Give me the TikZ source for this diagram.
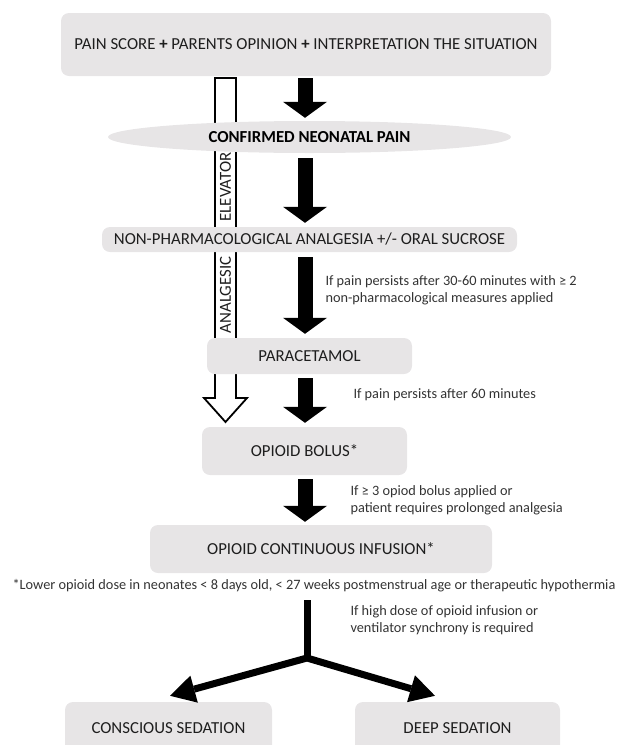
\documentclass[tikz,border=0pt]{standalone}
\usepackage{fontspec}
\setmainfont{Carlito}
\usetikzlibrary{
arrows.meta,
positioning,
calc,
shapes.geometric
}
\definecolor{BoxGray}{HTML}{E7E5E6}
\definecolor{TextDark}{HTML}{1E1E1E}
\definecolor{NoteGray}{HTML}{333333}

\begin{document}
\begin{tikzpicture}[
    x=1pt,
    y=-1pt,
    font=\fontsize{16.8}{19}\selectfont,
    stepbox/.style={
        fill=BoxGray,
        rounded corners=8pt,
        text=TextDark,
        inner sep=0pt
    },
    notetext/.style={
        anchor=west,
        align=left,
        text=NoteGray,
        font=\fontsize{14.3}{17}\selectfont
    },
    flowarrow/.style={
        line width=15pt,
        -{Triangle[length=16pt,width=44pt,line width=0pt]},
        shorten <=4pt,
        shorten >=4pt
    },
    forkarrow/.style={
        line width=7pt,
        line join=round,
        {Triangle[length=25pt,width=28pt,line width=0pt]}-{Triangle[length=25pt,width=28pt,line width=0pt]}
    }
]

\useasboundingbox (0,0) rectangle (619,745);
\clip (0,0) rectangle (619,745);

% =====================================================
% ANALGESIC ELEVATOR (behind the boxes)
% =====================================================
\draw[
    fill=white,
    line width=1.8pt,
    line join=miter
]
(215,78) -- (236,78) -- (236,398) -- (247,398)
-- (225.5,422) -- (204,398) -- (215,398) -- cycle;

\node[rotate=90, text=TextDark] (analgesic) at (225.5,295) {ANALGESIC};
\node[rotate=90, text=TextDark] (elevator) at (225.5,187) {ELEVATOR};

% =====================================================
% STEPS
% =====================================================
\node[
    stepbox,
    minimum width=490pt,
    minimum height=63pt
]
(pain) at (306,44.5)
{PAIN SCORE \textbf{+} PARENTS OPINION \textbf{+} INTERPRETATION THE SITUATION};

\node[
    ellipse,
    fill=BoxGray,
    inner sep=0pt,
    minimum width=403pt,
    minimum height=32pt,
    font=\fontsize{16.8}{19}\selectfont\bfseries
]
(confirmed) at (309.5,137)
{CONFIRMED NEONATAL PAIN};

\node[
    stepbox,
    minimum width=415pt,
    minimum height=25pt
]
(nonpharm) at (309.5,239.5)
{NON-PHARMACOLOGICAL ANALGESIA +/- ORAL SUCROSE};

\node[
    stepbox,
    minimum width=205pt,
    minimum height=36pt
]
(paracetamol) at (309.5,356)
{PARACETAMOL};

\node[
    stepbox,
    minimum width=205pt,
    minimum height=48pt
]
(bolus) at (304.5,451)
{OPIOID BOLUS*};

\node[
    stepbox,
    minimum width=342pt,
    minimum height=48pt
]
(infusion) at (321,549)
{OPIOID CONTINUOUS INFUSION*};

\node[
    stepbox,
    minimum width=207pt,
    minimum height=52pt
]
(conscious) at (168.5,728)
{CONSCIOUS SEDATION};

\node[
    stepbox,
    minimum width=205pt,
    minimum height=52pt
]
(deep) at (457.5,728)
{DEEP SEDATION};

% =====================================================
% MAIN FLOW ARROWS
% =====================================================
\coordinate (col) at (305,0);

\draw[flowarrow, shorten <=2pt, shorten >=3pt] (pain.south -| col) -- (confirmed.north -| col);
\draw[flowarrow, shorten <=5pt] (confirmed.south -| col) -- (nonpharm.north -| col);
\draw[flowarrow, shorten <=5pt] (nonpharm.south -| col) -- (paracetamol.north -| col);
\draw[flowarrow] (paracetamol.south -| col) -- (bolus.north -| col);
\draw[flowarrow, shorten >=3pt] (bolus.south -| col) -- (infusion.north -| col);

% =====================================================
% CONDITIONS
% =====================================================
\node[notetext] (cond1) at (322,290.5)
{If pain persists after 30-60 minutes with ≥ 2\\non-pharmacological measures applied};

\node[notetext] (cond2) at (350,395)
{If pain persists after 60 minutes};

\node[notetext] (cond3) at (347,500)
{If ≥ 3 opiod bolus applied or\\patient requires prolonged analgesia};

\node[notetext] (cond4) at (347,620)
{If high dose of opioid infusion or\\ventilator synchrony is required};

% footnote
\node[
    text=NoteGray,
    font=\fontsize{14.3}{17}\selectfont
]
(footnote) at (314,586)
{*Lower opioid dose in neonates < 8 days old, < 27 weeks postmenstrual age or therapeutic hypothermia};

% =====================================================
% FORK TO SEDATION
% =====================================================
\coordinate (forktop) at (307,600);
\coordinate (fork) at (307,658);

\draw[line width=7pt] (forktop) -- (fork);
\draw[forkarrow]
([xshift=1.5pt,yshift=6pt]conscious.north) -- (fork) -- ([xshift=-22.5pt,yshift=6pt]deep.north);

\end{tikzpicture}
\end{document}
